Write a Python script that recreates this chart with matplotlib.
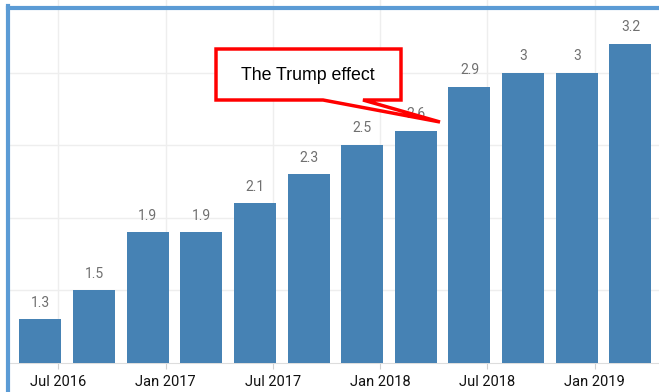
import matplotlib
matplotlib.use("Agg")
import matplotlib.pyplot as plt
from matplotlib.patches import Polygon
from matplotlib.lines import Line2D

# quarterly readings, x in months counted from Jan 2016
months = [5, 8, 11, 14, 17, 20, 23, 26, 29, 32, 35, 38]
values = [1.3, 1.5, 1.9, 1.9, 2.1, 2.3, 2.5, 2.6, 2.9, 3.0, 3.0, 3.2]
tick_months = [6, 12, 18, 24, 30, 36]
tick_labels = ["Jul 2016", "Jan 2017", "Jul 2017", "Jan 2018", "Jul 2018", "Jan 2019"]
y_grid = [1.5, 2.0, 2.5, 3.0]
callout_text = "The Trump effect"

BAR_COLOR = "#4682B4"
FRAME_COLOR = "#5B9BD5"
W, H = 659, 392

fig = plt.figure(figsize=(W / 100, H / 100), dpi=100)
ax = fig.add_axes([10 / W, 1 - 363 / H, 1 - 10 / W, 363 / H])

ax.bar(months, values, width=2.35, color=BAR_COLOR, zorder=3)
for m, v in zip(months, values):
    ax.annotate(f"{v:g}", (m, v), xytext=(0, 7), textcoords="offset points",
                ha="center", va="bottom", fontsize=10, color="#707070",
                family="Roboto", zorder=4)

ax.set_xlim(3.3, 39.6)
ax.set_ylim(1.0, 3.5)
ax.set_xticks(tick_months)
ax.set_xticklabels(tick_labels, family="Roboto", fontsize=10.5, color="#111111")
ax.set_yticks(y_grid)
ax.tick_params(axis="y", left=False, labelleft=False)
ax.tick_params(axis="x", length=4, color="#d0d0d0", pad=5)
ax.grid(True, color="#eeeeee", linewidth=1, zorder=0)
for side in ("top", "right", "left"):
    ax.spines[side].set_visible(False)
ax.spines["bottom"].set_color("#dddddd")

# blue border along the top and left of the panel
fig.add_artist(Line2D([8 / W, 8 / W], [0, 1 - 6 / H], color=FRAME_COLOR, lw=3,
                      transform=fig.transFigure))
fig.add_artist(Line2D([8 / W, 1], [1 - 7.5 / H, 1 - 7.5 / H], color=FRAME_COLOR, lw=3,
                      transform=fig.transFigure))

# callout box with its pointer
shape = [(216, 49), (401, 49), (401, 100), (363, 100), (440, 122), (323, 100), (216, 100)]
callout = Polygon([(x / W, 1 - y / H) for x, y in shape], closed=True,
                  facecolor="white", edgecolor="#ff0000", linewidth=2.5,
                  transform=fig.transFigure, zorder=10)
fig.add_artist(callout)
fig.text(308 / W, 1 - 75 / H, callout_text, ha="center", va="center",
         fontsize=12.8, family="Liberation Sans", color="black", zorder=11)

fig.savefig("out.png", dpi=100)
